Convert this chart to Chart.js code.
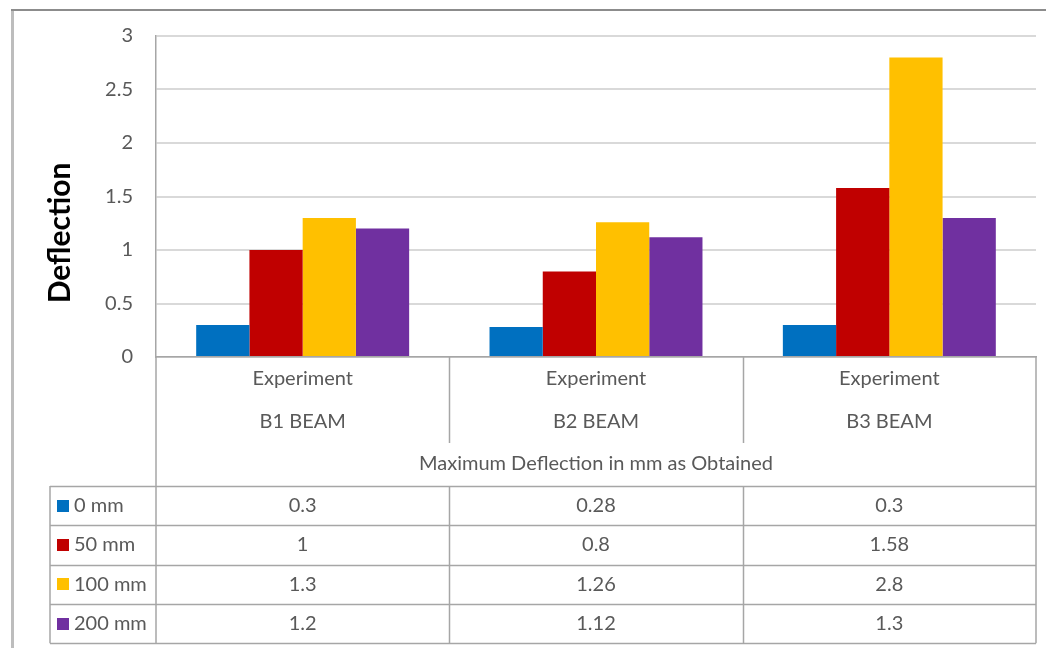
<!DOCTYPE html>
<html>
<head>
<meta charset="utf-8">
<script src="https://cdn.jsdelivr.net/npm/chart.js@4/dist/chart.umd.min.js"></script>
<style>
  html, body { margin: 0; padding: 0; background: #fff; }
  canvas { display: block; }
</style>
</head>
<body>
<canvas id="chart" width="1046" height="648"></canvas>
<script>
// Beam categories and the load-position series (maximum deflection, mm)
const beams = ['B1 BEAM', 'B2 BEAM', 'B3 BEAM'];
const groupLabel = 'Experiment';
const seriesNames = ['0 mm', '50 mm', '100 mm', '200 mm'];
const defl0mm = [0.3, 0.28, 0.3];
const defl50mm = [1, 0.8, 1.58];
const defl100mm = [1.3, 1.26, 2.8];
const defl200mm = [1.2, 1.12, 1.3];
const yTicks = [0, 0.5, 1, 1.5, 2, 2.5, 3];
const yTitle = 'Deflection';
const tableTitle = 'Maximum Deflection in mm as Obtained';

const seriesColors = ['#0070C0', '#C00000', '#FFC000', '#7030A0'];
const FONT = 'Lato, "Open Sans", "DejaVu Sans", sans-serif';
const TEXT = '#595959';
const LINE = '#a6a6a6';

const seriesValues = [defl0mm, defl50mm, defl100mm, defl200mm];

// Outer frame of the chart object
const framePlugin = {
  id: 'frame',
  beforeDraw(chart) {
    const ctx = chart.ctx;
    ctx.save();
    ctx.fillStyle = '#fff';
    ctx.fillRect(0, 0, chart.width, chart.height);
    ctx.strokeStyle = '#bdbdbd';
    ctx.lineWidth = 3;
    ctx.beginPath();
    ctx.moveTo(12.5, 10);
    ctx.lineTo(12.5, chart.height);
    ctx.stroke();
    ctx.strokeStyle = '#8c8c8c';
    ctx.lineWidth = 2;
    ctx.beginPath();
    ctx.moveTo(11, 10);
    ctx.lineTo(chart.width, 10);
    ctx.stroke();
    ctx.restore();
  }
};

// Axis title and the data table beneath the category axis
const tablePlugin = {
  id: 'dataTable',
  afterDraw(chart) {
    const ctx = chart.ctx;
    const x = chart.scales.x;
    const area = chart.chartArea;
    const n = beams.length;
    const catW = (x.right - x.left) / n;
    const axisY = area.bottom;
    const dividerBottom = axisY + 86;
    const tableTop = axisY + 129;
    const rowH = 39.3;
    const tableBottom = tableTop + rowH * seriesNames.length;
    const legendLeft = 50;

    ctx.save();

    // y-axis title
    ctx.save();
    ctx.translate(60, 233);
    ctx.rotate(-Math.PI / 2);
    ctx.fillStyle = '#000';
    ctx.font = 'bold 30px ' + FONT;
    ctx.textAlign = 'center';
    ctx.textBaseline = 'middle';
    ctx.fillText(yTitle, 0, 0);
    ctx.restore();

    const hLine = (x0, x1, y) => {
      ctx.beginPath(); ctx.moveTo(x0, y); ctx.lineTo(x1, y); ctx.stroke();
    };
    const vLine = (xx, y0, y1) => {
      ctx.beginPath(); ctx.moveTo(xx, y0); ctx.lineTo(xx, y1); ctx.stroke();
    };

    ctx.strokeStyle = LINE;
    ctx.lineWidth = 1.5;
    // outer sides of the category block
    vLine(x.left, axisY, tableBottom);
    vLine(x.right, axisY, tableBottom);
    // dividers between categories under the axis
    for (let i = 1; i < n; i++) {
      const bx = Math.round(x.left + catW * i) + 0.5;
      vLine(bx, axisY, dividerBottom);
    }
    // table grid
    for (let r = 0; r <= seriesNames.length; r++) {
      hLine(legendLeft, x.right, Math.round(tableTop + rowH * r) + 0.5);
    }
    vLine(legendLeft, tableTop, tableBottom);
    for (let i = 1; i < n; i++) {
      const bx = Math.round(x.left + catW * i) + 0.5;
      vLine(bx, tableTop, tableBottom);
    }

    // table header
    ctx.fillStyle = TEXT;
    ctx.font = '20px ' + FONT;
    ctx.textAlign = 'center';
    ctx.textBaseline = 'middle';
    ctx.fillText(tableTitle, (x.left + x.right) / 2, axisY + 107);

    // rows: legend key + values per beam
    chart.data.datasets.forEach((ds, r) => {
      const cy = tableTop + rowH * (r + 0.5);
      ctx.fillStyle = ds.backgroundColor;
      ctx.fillRect(57, Math.round(cy) - 6, 12, 12);
      ctx.fillStyle = TEXT;
      ctx.textAlign = 'left';
      ctx.fillText(ds.label, 74, cy);
      ctx.textAlign = 'center';
      ds.data.forEach((v, i) => {
        ctx.fillText(String(v), x.getPixelForValue(i), cy);
      });
    });

    ctx.restore();
  }
};

new Chart(document.getElementById('chart'), {
  type: 'bar',
  data: {
    labels: beams.map(b => [groupLabel, b]),
    datasets: seriesNames.map((name, i) => ({
      label: name,
      data: seriesValues[i],
      backgroundColor: seriesColors[i],
      borderWidth: 0,
      categoryPercentage: 0.726,
      barPercentage: 1
    }))
  },
  options: {
    responsive: false,
    animation: false,
    layout: { padding: { left: 0, top: 36, right: 10, bottom: 0 } },
    plugins: {
      legend: { display: false },
      tooltip: { enabled: false }
    },
    scales: {
      x: {
        grid: { display: false, drawTicks: false },
        border: { display: true, color: LINE, width: 1.5 },
        ticks: {
          color: TEXT,
          padding: 0,
          maxRotation: 0,
          font: { family: FONT, size: 20, lineHeight: 2.15 }
        },
        afterFit(s) { s.height = 291; }
      },
      y: {
        min: 0,
        max: 3,
        afterBuildTicks(s) { s.ticks = yTicks.map(v => ({ value: v })); },
        grid: { color: '#d9d9d9', lineWidth: 2, drawTicks: false },
        border: { display: true, color: LINE, width: 1.5 },
        ticks: {
          color: TEXT,
          padding: 23,
          font: { family: FONT, size: 20 },
          callback: v => String(v)
        },
        afterFit(s) { s.width = 156; }
      }
    }
  },
  plugins: [framePlugin, tablePlugin]
});
</script>
</body>
</html>
